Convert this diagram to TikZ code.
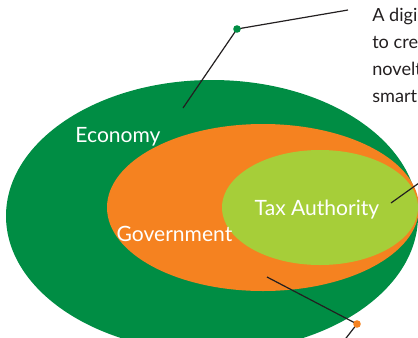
\documentclass[tikz,border=0pt]{standalone}
\usepackage{fontspec}
\setmainfont{Lato}
\usepackage{tikz}
\usetikzlibrary{positioning}
\definecolor{economy}{HTML}{008D44}
\definecolor{government}{HTML}{F58220}
\definecolor{taxgreen}{HTML}{A6CE39}
\definecolor{ink}{HTML}{231F20}

\begin{document}
\begin{tikzpicture}[x=0.75pt, y=-0.75pt,
    label/.style={text=white, font=\fontsize{15.8}{18}\selectfont, inner sep=0pt, anchor=base},
    note/.style={text=ink, font=\fontsize{13.6}{16}\selectfont, inner sep=0pt, anchor=base west},
    callout/.style={ink, line width=0.9pt}]
    \useasboundingbox (0, 0) rectangle (418, 337);
    \clip (0, 0) rectangle (418, 337);
    % ECONOMY
    \fill[economy] (212, 216) ellipse [x radius=206, y radius=136];
    % GOVERNMENT
    \fill[government] (263, 207.5) ellipse [x radius=156, y radius=83.5];
    % TAX AUTHORITY
    \fill[taxgreen] (320, 207.5) ellipse [x radius=98, y radius=57.5];
    % LABELS
    \node[label] (econ) at (118, 142) {Economy};
    \node[label] (gov) at (174.5, 241) {Government};
    \node[label] (tax) at (317, 215) {Tax Authority};
    % NOTE TEXT (runs off the right edge)
    \node[note] (line1) at (372, 21) {A digi};
    \node[note] (line2) at (372, 48) {to crea};
    \node[note] (line3) at (372, 75) {novelt};
    \node[note] (line4) at (372, 102) {smart};
    % CALLOUTS
    \coordinate (econ tip) at (183, 108);
    \coordinate (econ dot) at (237, 29);
    \coordinate (econ end) at (348, 10);
    \draw[callout] (econ tip) -- (econ dot) -- (econ end);
    \fill[economy] (econ dot) circle (3.8);
    \coordinate (tax tip) at (391, 203);
    \coordinate (tax end) at (433, 173);
    \draw[callout] (tax tip) -- (tax end);
    \coordinate (gov tip) at (267, 277);
    \coordinate (gov dot) at (357, 324);
    \coordinate (gov end) at (343, 342);
    \draw[callout] (gov tip) -- (gov dot) -- (gov end);
    \fill[government] (gov dot) circle (3.8);
\end{tikzpicture}
\end{document}
